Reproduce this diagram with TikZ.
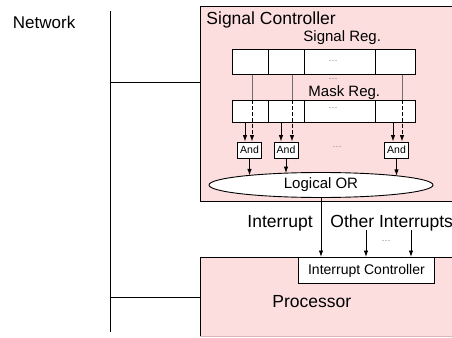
\documentclass[tikz,border=0pt]{standalone}
\usepackage{fontspec}
\setmainfont{Liberation Sans}
\usetikzlibrary{arrows.meta,shapes.geometric}
\definecolor{ctlpink}{RGB}{253,222,222}
\definecolor{dotgray}{RGB}{130,130,130}
\definecolor{edgepink}{RGB}{215,185,185}
\newcommand{\fs}[1]{\fontsize{#1}{#1}\selectfont}
\begin{document}
\begin{tikzpicture}[x=1pt,y=-1pt,line width=0.9pt,
  >={Latex[length=6.5pt,width=4.5pt]},
  block/.style={fill=ctlpink,anchor=north west,inner sep=0pt},
  cell/.style={draw=black,fill=white,inner sep=0pt,minimum width=#1},
  sigcell/.style={cell=#1,minimum height=25pt},
  maskcell/.style={cell=#1,minimum height=22pt},
  andbox/.style={draw=black,fill=white,inner sep=0pt,minimum width=24pt,minimum height=16pt,font=\fs{10.5}},
  lbl/.style={anchor=base west,inner sep=0pt},
  dotlbl/.style={inner sep=0pt,text=dotgray,font=\fs{9.5}},
  passline/.style={draw={rgb,255:red,110;green,110;blue,110},line width=0.8pt},
  maskline/.style={->,dash pattern=on 4pt off 2pt}]
\useasboundingbox (0,0) rectangle (452,337);
\clip (0,0) rectangle (452,337);

% network bus
\coordinate (busT) at (110,11);
\coordinate (busB) at (110,332);
\draw (busT) -- (busB);
\node[lbl,font=\fs{17}] (netlbl) at (12.5,29) {Network};

% signal controller block
\node[block,minimum width=270pt,minimum height=195pt] (sc) at (200,6) {};
\draw (sc.south east) -- (sc.south west) -- (sc.north west) -- (sc.north east);
\node[lbl,font=\fs{17.5}] (sclbl) at (206,25) {Signal Controller};

% processor block
\node[block,minimum width=270pt,minimum height=78.5pt] (proc) at (200,257) {};
\draw (proc.south west) -- (proc.north west) -- (proc.north east);
\draw[edgepink] (proc.south west) -- (proc.south east);
\node[lbl,font=\fs{17.5}] (proclbl) at (272,307) {Processor};

% bus taps
\coordinate (tap1) at (110,82);
\coordinate (tap2) at (110,297);
\draw (tap1) -- (tap1 -| sc.west);
\draw (tap2) -- (tap2 -| proc.west);

% signal register
\node[lbl,font=\fs{15}] (sreglbl) at (303,41.5) {Signal Reg.};
\node[sigcell=36pt] (s1) at (250,62) {};
\node[sigcell=36pt] (s2) at (286,62) {};
\node[sigcell=71pt] (s3) at (339.5,62) {};
\node[sigcell=40pt] (s4) at (395,62) {};
\node[dotlbl] (sdots) at (333,61) {\dots};

% mask register
\node[dotlbl] (mdots0) at (333,79) {\dots};
\node[lbl,font=\fs{15}] (mreglbl) at (308,96.5) {Mask Reg.};
\node[maskcell=36pt] (m1) at (250,111.5) {};
\node[maskcell=36pt] (m2) at (286,111.5) {};
\node[maskcell=71pt] (m3) at (339.5,111.5) {};
\node[maskcell=40pt] (m4) at (395,111.5) {};
\node[dotlbl] (mdots) at (333,108) {\dots};

% and gates
\node[andbox] (a1) at (249.5,150) {And};
\node[andbox] (a2) at (286,150) {And};
\node[andbox] (a3) at (396.5,150) {And};
\node[dotlbl] (adots) at (337,147) {\dots};

% signal and mask bits into the gates
\draw[->] ([xshift=-4.5pt]a1.north |- m1.south) -- ([xshift=-4.5pt]a1.north);
\draw[->] ([xshift=-5pt]a2.north |- m2.south) -- ([xshift=-5pt]a2.north);
\draw[->] ([xshift=-3.5pt]a3.north |- m4.south) -- ([xshift=-3.5pt]a3.north);
\draw[passline] ([xshift=2.5pt]a1.north |- s1.south) -- ([xshift=2.5pt]a1.north |- m1.north);
\draw[passline] ([xshift=6pt]a2.north |- s2.south) -- ([xshift=6pt]a2.north |- m2.north);
\draw[passline] ([xshift=5.5pt]a3.north |- s4.south) -- ([xshift=5.5pt]a3.north |- m4.north);
\draw[maskline] ([xshift=2.5pt]a1.north |- m1.north) -- ([xshift=2.5pt]a1.north);
\draw[maskline] ([xshift=6pt]a2.north |- m2.north) -- ([xshift=6pt]a2.north);
\draw[maskline] ([xshift=5.5pt]a3.north |- m4.north) -- ([xshift=5.5pt]a3.north);

% logical or
\node[ellipse,draw=black,fill=white,inner sep=0pt,minimum width=224pt,minimum height=25pt,font=\fs{15}] (lor) at (321,185) {\raisebox{-1.5pt}{Logical OR}};
\coordinate (o1) at (249.5,175.4);
\coordinate (o2) at (286,173.1);
\coordinate (o3) at (396.5,175.8);
\draw[->] (a1.south) -- (o1);
\draw[->] (a2.south) -- (o2);
\draw[->] (a3.south) -- (o3);

% interrupt controller
\node[draw=black,fill=white,inner sep=0pt,anchor=north west,minimum width=136pt,minimum height=26pt,font=\fs{14}] (ic) at (298,257) {\raisebox{-1pt}{Interrupt Controller}};
\draw[->] (lor.south) -- (lor.south |- ic.north);
\node[lbl,font=\fs{17.5}] (intlbl) at (247,227) {Interrupt};
\node[lbl,font=\fs{17.5}] (othlbl) at (330,227) {Other Interrupts};
\coordinate (oi1) at (366,230);
\coordinate (oi2) at (411,230);
\draw[->] (oi1) -- (oi1 |- ic.north);
\draw[->] (oi2) -- (oi2 |- ic.north);
\node[dotlbl] (idots) at (386,241) {\dots};
\end{tikzpicture}
\end{document}
